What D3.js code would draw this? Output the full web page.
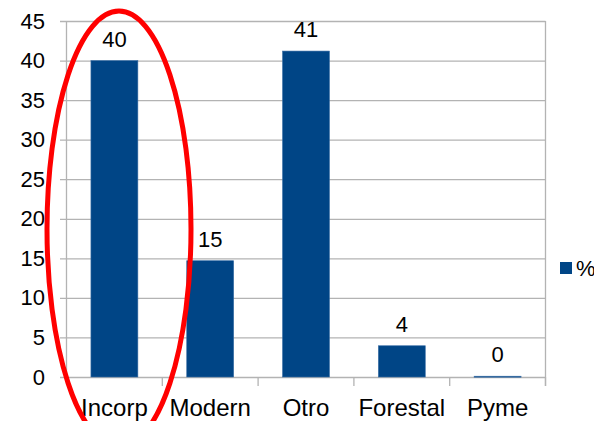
<!DOCTYPE html>
<html><head><meta charset="utf-8">
<script src="https://cdn.jsdelivr.net/npm/d3@7"></script>
<style>
html,body{margin:0;padding:0;background:#fff;}
svg{display:block;font-family:"Liberation Sans",Arial,sans-serif;}
</style></head>
<body>
<svg id="chart" width="594" height="421"></svg>
<script>
const categories = ["Incorp", "Modern", "Otro", "Forestal", "Pyme"];
const values = [40, 14.7, 41.2, 3.95, 0.1];
const valueLabels = ["40", "15", "41", "4", "0"];
const yTicks = [0, 5, 10, 15, 20, 25, 30, 35, 40, 45];
const seriesName = "%";

const svg = d3.select("#chart");
const plotLeft = 66.5, plotRight = 545.5, plotTop = 21, plotBottom = 377;
const gridColor = "#b3b3b3";
const barColor = "#004586";

const y = d3.scaleLinear().domain([0, 45]).range([plotBottom, plotTop]);
const x = d3.scaleBand().domain(categories).range([plotLeft, plotRight]).paddingInner(0.51).paddingOuter(0.255);

// gridlines + y labels
const yAxis = d3.axisLeft(y).tickValues(yTicks).tickSizeInner(-(plotRight - 60)).tickSizeOuter(0).tickPadding(15);
const gy = svg.append("g").attr("transform", "translate(60,0)").call(yAxis);
gy.select(".domain").remove();
gy.selectAll(".tick line").attr("stroke", gridColor).attr("stroke-width", 1.3);
gy.selectAll(".tick text").attr("font-size", 22).attr("fill", "#000").attr("font-family", "Liberation Sans, Arial, sans-serif");

// vertical axis and right border
svg.append("line").attr("x1", plotLeft).attr("x2", plotLeft).attr("y1", y(45)).attr("y2", y(0))
  .attr("stroke", gridColor).attr("stroke-width", 1.3);
svg.append("line").attr("x1", plotRight).attr("x2", plotRight).attr("y1", y(45)).attr("y2", y(0) + 9)
  .attr("stroke", gridColor).attr("stroke-width", 1.3);

// category boundary ticks
const step = x.step();
svg.selectAll("line.ctick").data(categories).enter().append("line")
  .attr("class", "ctick")
  .attr("x1", d => x(d) + x.bandwidth() + (step - x.bandwidth()) / 2)
  .attr("x2", d => x(d) + x.bandwidth() + (step - x.bandwidth()) / 2)
  .attr("y1", y(0)).attr("y2", y(0) + 9)
  .attr("stroke", gridColor).attr("stroke-width", 1.3);

// bars
svg.selectAll("rect.bar").data(values).enter().append("rect")
  .attr("class", "bar")
  .attr("x", (d, i) => x(categories[i]))
  .attr("width", x.bandwidth())
  .attr("y", d => y(d))
  .attr("height", d => Math.max(1, y(0) - y(d)))
  .attr("fill", barColor)
  .attr("stroke", "#3b6fa6").attr("stroke-width", 0.6);

// value labels
svg.selectAll("text.val").data(values).enter().append("text")
  .attr("class", "val")
  .attr("x", (d, i) => x(categories[i]) + x.bandwidth() / 2)
  .attr("y", d => y(d) - 14)
  .attr("text-anchor", "middle")
  .attr("font-size", 22)
  .attr("fill", "#000")
  .text((d, i) => valueLabels[i]);

// category labels
svg.selectAll("text.cat").data(categories).enter().append("text")
  .attr("class", "cat")
  .attr("x", d => x(d) + x.bandwidth() / 2)
  .attr("y", 416)
  .attr("text-anchor", "middle")
  .attr("font-size", 24)
  .attr("fill", "#000")
  .text(d => d);

// legend
svg.append("rect").attr("x", 560).attr("y", 262).attr("width", 12).attr("height", 12).attr("fill", barColor);
svg.append("text").attr("x", 576).attr("y", 276).attr("font-size", 22).attr("fill", "#000").text(seriesName);

// red ellipse annotation
svg.append("ellipse").attr("cx", 119).attr("cy", 229).attr("rx", 72).attr("ry", 218)
  .attr("fill", "none").attr("stroke", "#ff0000").attr("stroke-width", 5);
</script>
</body></html>
